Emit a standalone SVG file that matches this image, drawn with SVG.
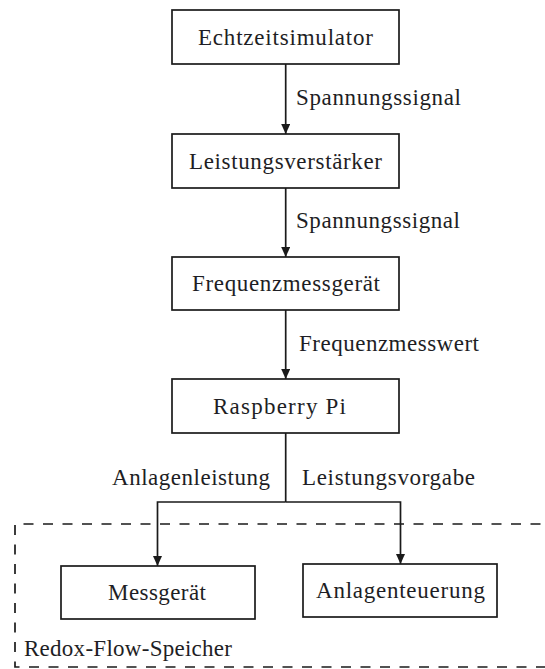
<svg xmlns="http://www.w3.org/2000/svg" width="545" height="669" viewBox="0 0 545 669">
  <style>
    .box { fill: #ffffff; stroke: #1a1a1a; stroke-width: 1.7; }
    .lbl { font-family: "Liberation Serif", "Times New Roman", serif; font-size: 23px; fill: #1e1e24; }
    .wire { fill: none; stroke: #1a1a1a; stroke-width: 1.7; }
    .group { fill: none; stroke: #1a1a1a; stroke-width: 1.7; stroke-dasharray: 10 9.5; }
  </style>
  <defs>
    <marker id="arrow" markerUnits="userSpaceOnUse" markerWidth="10" markerHeight="10" refX="10" refY="4.5" orient="auto">
      <path d="M0,0 L10,4.5 L0,9 Z" fill="#1a1a1a"/>
    </marker>
  </defs>

  <rect fill="#ffffff" x="0" y="0" width="545" height="669"/>

  <!-- storage system boundary (open to the right) -->
  <g id="redox-flow-speicher">
    <path class="group" d="M560,524 H15 V667 H560"/>
    <text class="lbl" x="24" y="656" textLength="208" lengthAdjust="spacing">Redox-Flow-Speicher</text>
  </g>

  <!-- connectors -->
  <g id="connectors">
    <line class="wire" x1="285.7" y1="64" x2="285.7" y2="134" marker-end="url(#arrow)"/>
    <line class="wire" x1="285.7" y1="188" x2="285.7" y2="257" marker-end="url(#arrow)"/>
    <line class="wire" x1="285.7" y1="310" x2="285.7" y2="379" marker-end="url(#arrow)"/>
    <line class="wire" x1="285.7" y1="433" x2="285.7" y2="502"/>
    <path class="wire" d="M285.7,502 H157.5 V566" marker-end="url(#arrow)"/>
    <path class="wire" d="M285.7,502 H400.5 V564" marker-end="url(#arrow)"/>
    <text class="lbl" x="296" y="105" textLength="165" lengthAdjust="spacing">Spannungssignal</text>
    <text class="lbl" x="296" y="228" textLength="164" lengthAdjust="spacing">Spannungssignal</text>
    <text class="lbl" x="299" y="351" textLength="180" lengthAdjust="spacing">Frequenzmesswert</text>
    <text class="lbl" x="112" y="485" textLength="158" lengthAdjust="spacing">Anlagenleistung</text>
    <text class="lbl" x="302" y="485" textLength="173" lengthAdjust="spacing">Leistungsvorgabe</text>
  </g>

  <g id="echtzeitsimulator">
    <rect class="box" x="172" y="10" width="227" height="54"/>
    <text class="lbl" x="198" y="45" textLength="175" lengthAdjust="spacing">Echtzeitsimulator</text>
  </g>
  <g id="leistungsverstaerker">
    <rect class="box" x="172" y="134" width="227" height="54"/>
    <text class="lbl" x="189" y="169" textLength="193" lengthAdjust="spacing">Leistungsverstärker</text>
  </g>
  <g id="frequenzmessgeraet">
    <rect class="box" x="172" y="257" width="227" height="53"/>
    <text class="lbl" x="192" y="291" textLength="188" lengthAdjust="spacing">Frequenzmessgerät</text>
  </g>
  <g id="raspberry-pi">
    <rect class="box" x="172" y="379" width="227" height="54"/>
    <text class="lbl" x="213" y="414" textLength="133" lengthAdjust="spacing">Raspberry Pi</text>
  </g>
  <g id="messgeraet">
    <rect class="box" x="61" y="566" width="194" height="53"/>
    <text class="lbl" x="108" y="600" textLength="98" lengthAdjust="spacing">Messgerät</text>
  </g>
  <g id="anlagensteuerung">
    <rect class="box" x="303" y="564" width="194" height="53"/>
    <text class="lbl" x="316" y="598" textLength="169" lengthAdjust="spacing">Anlagenteuerung</text>
  </g>
</svg>
